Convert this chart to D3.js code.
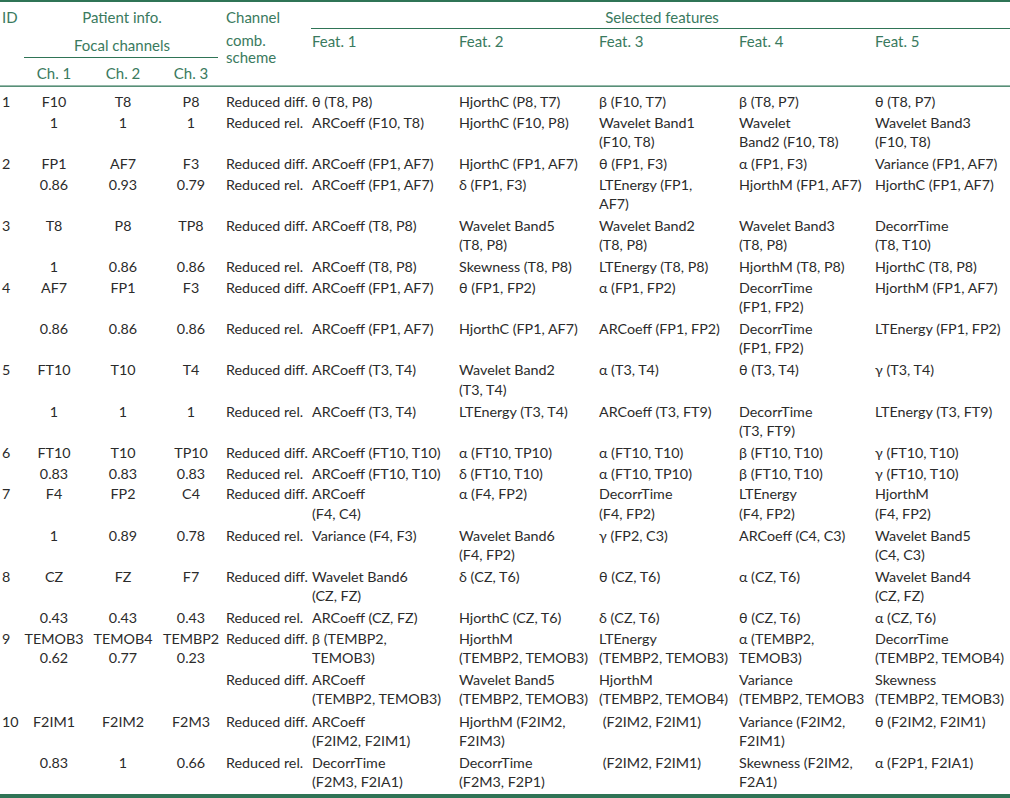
<!DOCTYPE html>
<html><head><meta charset="utf-8">
<script src="https://cdn.jsdelivr.net/npm/d3@7"></script>
<style>
html,body{margin:0;padding:0;background:#fff;}
svg text{font-family:Lato,"Open Sans","DejaVu Sans",sans-serif;}
</style></head>
<body><svg id="chart" width="1010" height="798"></svg>
<script>
// ---- Table data (one entry per table row) ----
const idCol = ["1","","2","","3","","4","","5","","6","","7","","8","","9","","10",""];
const ch1Col = ["F10","1","FP1","0.86","T8","1","AF7","0.86","FT10","1","FT10","0.83","F4","1","CZ","0.43","TEMOB3\n0.62","","F2IM1","0.83"];
const ch2Col = ["T8","1","AF7","0.93","P8","0.86","FP1","0.86","T10","1","T10","0.83","FP2","0.89","FZ","0.43","TEMOB4\n0.77","","F2IM2","1"];
const ch3Col = ["P8","1","F3","0.79","TP8","0.86","F3","0.86","T4","1","TP10","0.83","C4","0.78","F7","0.43","TEMBP2\n0.23","","F2M3","0.66"];
const schemeCol = ["Reduced diff.","Reduced rel.","Reduced diff.","Reduced rel.","Reduced diff.","Reduced rel.","Reduced diff.","Reduced rel.","Reduced diff.","Reduced rel.","Reduced diff.","Reduced rel.","Reduced diff.","Reduced rel.","Reduced diff.","Reduced rel.","Reduced diff.","Reduced diff.","Reduced diff.","Reduced rel."];
const feat1Col = ["θ (T8, P8)","ARCoeff (F10, T8)","ARCoeff (FP1, AF7)","ARCoeff (FP1, AF7)","ARCoeff (T8, P8)","ARCoeff (T8, P8)","ARCoeff (FP1, AF7)","ARCoeff (FP1, AF7)","ARCoeff (T3, T4)","ARCoeff (T3, T4)","ARCoeff (FT10, T10)","ARCoeff (FT10, T10)","ARCoeff\n(F4, C4)","Variance (F4, F3)","Wavelet Band6\n(CZ, FZ)","ARCoeff (CZ, FZ)","β (TEMBP2,\nTEMOB3)","ARCoeff\n(TEMBP2, TEMOB3)","ARCoeff\n(F2IM2, F2IM1)","DecorrTime\n(F2M3, F2IA1)"];
const feat2Col = ["HjorthC (P8, T7)","HjorthC (F10, P8)","HjorthC (FP1, AF7)","δ (FP1, F3)","Wavelet Band5\n(T8, P8)","Skewness (T8, P8)","θ (FP1, FP2)","HjorthC (FP1, AF7)","Wavelet Band2\n(T3, T4)","LTEnergy (T3, T4)","α (FT10, TP10)","δ (FT10, T10)","α (F4, FP2)","Wavelet Band6\n(F4, FP2)","δ (CZ, T6)","HjorthC (CZ, T6)","HjorthM\n(TEMBP2, TEMOB3)","Wavelet Band5\n(TEMBP2, TEMOB3)","HjorthM (F2IM2,\nF2IM3)","DecorrTime\n(F2M3, F2P1)"];
const feat3Col = ["β (F10, T7)","Wavelet Band1\n(F10, T8)","θ (FP1, F3)","LTEnergy (FP1,\nAF7)","Wavelet Band2\n(T8, P8)","LTEnergy (T8, P8)","α (FP1, FP2)","ARCoeff (FP1, FP2)","α (T3, T4)","ARCoeff (T3, FT9)","α (FT10, T10)","α (FT10, TP10)","DecorrTime\n(F4, FP2)","γ (FP2, C3)","θ (CZ, T6)","δ (CZ, T6)","LTEnergy\n(TEMBP2, TEMOB3)","HjorthM\n(TEMBP2, TEMOB4)"," (F2IM2, F2IM1)"," (F2IM2, F2IM1)"];
const feat4Col = ["β (T8, P7)","Wavelet\nBand2 (F10, T8)","α (FP1, F3)","HjorthM (FP1, AF7)","Wavelet Band3\n(T8, P8)","HjorthM (T8, P8)","DecorrTime\n(FP1, FP2)","DecorrTime\n(FP1, FP2)","θ (T3, T4)","DecorrTime\n(T3, FT9)","β (FT10, T10)","β (FT10, T10)","LTEnergy\n(F4, FP2)","ARCoeff (C4, C3)","α (CZ, T6)","θ (CZ, T6)","α (TEMBP2,\nTEMOB3)","Variance\n(TEMBP2, TEMOB3","Variance (F2IM2,\nF2IM1)","Skewness (F2IM2,\nF2A1)"];
const feat5Col = ["θ (T8, P7)","Wavelet Band3\n(F10, T8)","Variance (FP1, AF7)","HjorthC (FP1, AF7)","DecorrTime\n(T8, T10)","HjorthC (T8, P8)","HjorthM (FP1, AF7)","LTEnergy (FP1, FP2)","γ (T3, T4)","LTEnergy (T3, FT9)","γ (FT10, T10)","γ (FT10, T10)","HjorthM\n(F4, FP2)","Wavelet Band5\n(C4, C3)","Wavelet Band4\n(CZ, FZ)","α (CZ, T6)","DecorrTime\n(TEMBP2, TEMOB4)","Skewness\n(TEMBP2, TEMOB3)","θ (F2IM2, F2IM1)","α (F2P1, F2IA1)"];

// header labels
const featHeaders = ["Feat. 1","Feat. 2","Feat. 3","Feat. 4","Feat. 5"];
const chHeaders = ["Ch. 1","Ch. 2","Ch. 3"];

// ---- Styling / layout ----
const W = 1010, H = 798;
const green = "#3a7a5e", ruleGreen = "#2f7456", bodyColor = "#2b2b2b";
const fontSize = 14.3;
const rowUnit = 20.65;   // vertical advance per text line between rows
const innerLine = 19.2;  // line spacing inside a wrapped cell
const svg = d3.select("#chart");

const columns = [
  {key:"id", data:idCol, x:2, anchor:"start"},
  {key:"c1", data:ch1Col, x:54, anchor:"middle"},
  {key:"c2", data:ch2Col, x:123, anchor:"middle"},
  {key:"c3", data:ch3Col, x:191, anchor:"middle"},
  {key:"sc", data:schemeCol, x:226, anchor:"start"},
  {key:"f1", data:feat1Col, x:312, anchor:"start"},
  {key:"f2", data:feat2Col, x:459, anchor:"start"},
  {key:"f3", data:feat3Col, x:599, anchor:"start"},
  {key:"f4", data:feat4Col, x:739, anchor:"start"},
  {key:"f5", data:feat5Col, x:875, anchor:"start"}
];

const nRows = idCol.length;
const rowLines = d3.range(nRows).map(i => d3.max(columns, c => c.data[i].split("\n").length));
const cum = [0]; rowLines.forEach((l,i) => cum.push(cum[i] + l));
// y scale: cumulative line units -> pixels (baseline)
const firstBaseline = 107;
const yLine = d3.scaleLinear().domain([0, 1]).range([firstBaseline, firstBaseline + rowUnit]);
const rowY = i => yLine(cum[i]);

// ---- Rules ----
svg.append("rect").attr("x",0).attr("y",0).attr("width",W).attr("height",2).attr("fill",ruleGreen);
svg.append("rect").attr("x",0).attr("y",794).attr("width",W).attr("height",4).attr("fill",ruleGreen);
svg.append("rect").attr("x",0).attr("y",85.5).attr("width",W).attr("height",1.3).attr("fill",ruleGreen);
svg.append("line").attr("x1",311).attr("x2",W).attr("y1",28.5).attr("y2",28.5).attr("stroke",ruleGreen).attr("stroke-width",1.2);
svg.append("line").attr("x1",24).attr("x2",218).attr("y1",57.5).attr("y2",57.5).attr("stroke",ruleGreen).attr("stroke-width",1.2);

// ---- Header ----
const hdr = svg.append("g").attr("fill",green).attr("font-size",fontSize + 0.7);
function htext(x,y,t,anchor){ hdr.append("text").attr("x",x).attr("y",y).attr("text-anchor",anchor||"start").text(t); }
htext(2,22.5,"ID");
htext(122,22.5,"Patient info.","middle");
htext(122,50.5,"Focal channels","middle");
htext(226,22.5,"Channel");
htext(226,45.5,"comb.");
htext(226,63,"scheme");
htext(662,22.5,"Selected features","middle");
featHeaders.forEach((t,i)=>htext(columns[5+i].x,46.5,t));
chHeaders.forEach((t,i)=>htext(columns[1+i].x,78.5,t,"middle"));

// ---- Body ----
const body = svg.append("g").attr("fill",bodyColor).attr("font-size",fontSize);
columns.forEach(col => {
  const g = body.append("g");
  g.selectAll("text").data(col.data.map((d,i)=>({t:d,i})).filter(d=>d.t!==""))
    .join("text")
    .attr("x", col.x)
    .attr("y", d => rowY(d.i))
    .attr("text-anchor", col.anchor)
    .attr("xml:space","preserve")
    .each(function(d){
      const lines = d.t.split("\n");
      d3.select(this).selectAll("tspan").data(lines).join("tspan")
        .attr("x", col.x)
        .attr("dy", (l,k) => k===0 ? 0 : innerLine)
        .text(l=>l);
    });
});
</script>
</body></html>
